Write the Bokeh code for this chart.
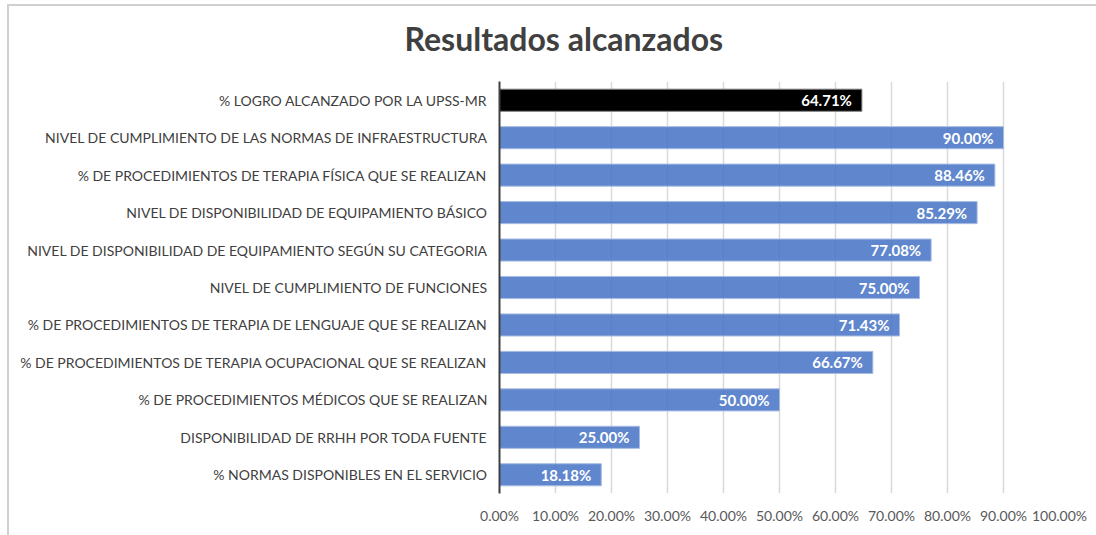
from bokeh.plotting import figure
from bokeh.models import Range1d, FixedTicker, ColumnDataSource
from bokeh.embed import file_html
from bokeh.resources import INLINE
from bokeh.core.properties import value

categories = [
    "% LOGRO ALCANZADO POR LA UPSS-MR",
    "NIVEL DE CUMPLIMIENTO DE LAS NORMAS DE INFRAESTRUCTURA",
    "% DE PROCEDIMIENTOS DE TERAPIA FÍSICA QUE SE REALIZAN",
    "NIVEL DE DISPONIBILIDAD DE EQUIPAMIENTO BÁSICO",
    "NIVEL DE DISPONIBILIDAD DE EQUIPAMIENTO SEGÚN SU CATEGORIA",
    "NIVEL DE CUMPLIMIENTO DE FUNCIONES",
    "% DE PROCEDIMIENTOS DE TERAPIA DE LENGUAJE QUE SE REALIZAN",
    "% DE PROCEDIMIENTOS DE TERAPIA OCUPACIONAL QUE SE REALIZAN",
    "% DE PROCEDIMIENTOS MÉDICOS QUE SE REALIZAN",
    "DISPONIBILIDAD DE RRHH POR TODA FUENTE",
    "% NORMAS DISPONIBLES EN EL SERVICIO",
]
values = [0.6471, 0.9000, 0.8846, 0.8529, 0.7708, 0.7500, 0.7143, 0.6667, 0.5000, 0.2500, 0.1818]
value_labels = ["64.71%", "90.00%", "88.46%", "85.29%", "77.08%", "75.00%",
                "71.43%", "66.67%", "50.00%", "25.00%", "18.18%"]
x_ticks = [0.0, 0.1, 0.2, 0.3, 0.4, 0.5, 0.6, 0.7, 0.8, 0.9, 1.0]
x_tick_labels = ["0.00%", "10.00%", "20.00%", "30.00%", "40.00%", "50.00%",
                 "60.00%", "70.00%", "80.00%", "90.00%", "100.00%"]
title_text = "Resultados alcanzados"

n = len(categories)
ypos = [n - 1 - i for i in range(n)]
colors = ["#000000"] + ["#4472C4"] * (n - 1)
alphas = [1.0] + [0.85] * (n - 1)
lines = ["#7f7f7f"] + ["#a8bde3"] * (n - 1)

src = ColumnDataSource(dict(y=ypos, v=values, lab=value_labels, c=colors, a=alphas, lc=lines))

# host placed at page x=7, y=-9
W, H = 1089, 544
FL, FT, FW, FH = 492, 90, 560, 412
p = figure(width=W, height=H, output_backend="svg", toolbar_location=None,
           x_range=Range1d(0, 1.0), y_range=Range1d(-0.5, n - 0.5),
           min_border_left=FL, min_border_right=W - FL - FW,
           min_border_top=FT, min_border_bottom=H - FT - FH)
p.frame_width = FW
p.frame_height = FH
p.outline_line_color = None
p.background_fill_color = "white"
p.border_fill_color = None
p.styles = {
    "margin-left": "7px",
    "margin-top": "-9px",
    "background": ("linear-gradient(#d0d0d0,#d0d0d0) 0px 13px / 100% 2px no-repeat, "
                   "linear-gradient(#d0d0d0,#d0d0d0) 0px 13px / 2px 100% no-repeat, #ffffff"),
}

p.title.text = title_text
p.title.align = "left"
p.title.offset = -95
p.title.vertical_align = "bottom"
p.title.standoff = 48
p.title.text_font = "Lato"
p.title.text_font_style = "bold"
p.title.text_font_size = "32px"
p.title.text_color = "#404040"

p.hbar(y="y", right="v", left=0, height=0.59, fill_color="c", fill_alpha="a",
       line_color="lc", line_width=1, source=src)
p.text(x="v", y="y", text="lab", text_align="right", text_baseline="middle",
       x_offset=-10, text_color="white", text_font=value("Lato"),
       text_font_style="bold", text_font_size="15px", source=src)

# x axis
p.xaxis.ticker = FixedTicker(ticks=x_ticks)
p.xaxis.major_label_overrides = {t: l for t, l in zip(x_ticks, x_tick_labels)}
p.xaxis.axis_line_color = None
p.xaxis.major_tick_line_color = None
p.xaxis.major_tick_out = 0
p.xaxis.major_tick_in = 0
p.xaxis.minor_tick_line_color = None
p.xaxis.major_label_standoff = 13
p.xaxis.major_label_text_font = "Lato"
p.xaxis.major_label_text_font_size = "14px"
p.xaxis.major_label_text_color = "#595959"

# y axis
p.yaxis.ticker = FixedTicker(ticks=ypos)
p.yaxis.major_label_overrides = {y: c for y, c in zip(ypos, categories)}
p.yaxis.axis_line_color = "#404040"
p.yaxis.axis_line_width = 2
p.yaxis.major_tick_line_color = None
p.yaxis.major_tick_out = 0
p.yaxis.major_tick_in = 0
p.yaxis.minor_tick_line_color = None
p.yaxis.major_label_standoff = 12
p.yaxis.major_label_text_font = "Lato"
p.yaxis.major_label_text_font_size = "14px"
p.yaxis.major_label_text_color = "#404040"

p.xgrid.grid_line_color = "#d9d9d9"
p.xgrid.grid_line_width = 1.5
p.ygrid.grid_line_color = None

open("out.html", "w").write(file_html(p, INLINE))
